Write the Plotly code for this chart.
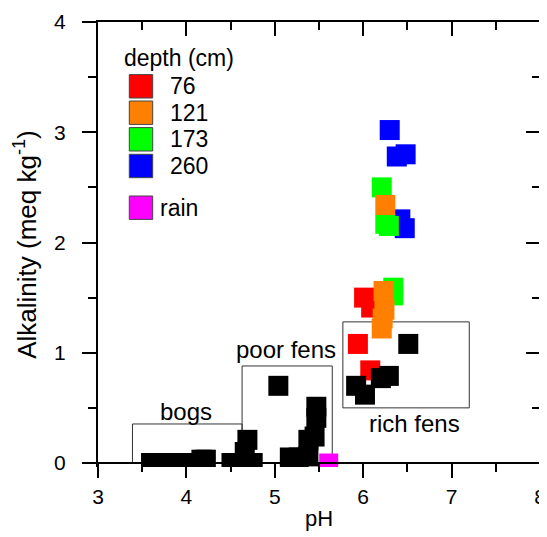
import plotly.graph_objects as go

# ---------------- data ----------------
ph_76 = [6.01, 6.09, 5.94, 6.08]
alk_76 = [1.50, 1.41, 1.08, 0.84]

ph_121 = [6.25, 6.23, 6.24, 6.22, 6.21]
alk_121 = [2.34, 1.56, 1.39, 1.31, 1.22]

ph_173 = [6.21, 6.25, 6.29, 6.34, 6.34]
alk_173 = [2.50, 2.17, 2.15, 1.59, 1.52]

ph_260 = [6.30, 6.38, 6.48, 6.42, 6.47]
alk_260 = [3.02, 2.78, 2.80, 2.21, 2.13]

ph_peat = [3.60, 3.70, 3.81, 3.92, 4.04, 4.17, 4.22,
           4.51, 4.61, 4.75, 4.66, 4.69,
           5.04, 5.47, 5.47, 5.45, 5.38, 5.38, 5.17, 5.27,
           6.51, 6.20, 6.29, 5.92, 6.02]
alk_peat = [0.00, 0.00, 0.00, 0.00, 0.00, 0.03, 0.03,
            0.00, 0.00, 0.00, 0.10, 0.21,
            0.70, 0.51, 0.41, 0.24, 0.21, 0.06, 0.05, 0.05,
            1.08, 0.77, 0.79, 0.70, 0.62]

ph_rain = [5.61]
alk_rain = [0.0]

depth_labels = ["76", "121", "173", "260"]
depth_colors = ["#FF0000", "#FF8000", "#00FF00", "#0000FF"]
rain_label = "rain"
rain_color = "#FF00FF"

# site-type boxes
box_names = ["bogs", "poor fens", "rich fens"]
box_ph0 = [3.39, 4.63, 5.77]
box_ph1 = [4.63, 5.65, 7.20]
box_alk0 = [0.0, 0.0, 0.50]
box_alk1 = [0.354, 0.88, 1.28]
box_label_ph = [4.00, 5.13, 6.58]
box_label_alk = [0.47, 1.025, 0.36]

X_RANGE = [3, 8]
Y_MIN_PAD = 0.0363
Y_RANGE = [-Y_MIN_PAD, 4]

FONT = "Liberation Sans, Arial, sans-serif"
MS = 20

fig = go.Figure()

series = [(ph_260, alk_260, depth_colors[3]),
          (ph_173, alk_173, depth_colors[2]),
          (ph_76, alk_76, depth_colors[0]),
          (ph_121, alk_121, depth_colors[1])]
for xs, ys, c in series:
    fig.add_trace(go.Scatter(x=xs, y=ys, mode="markers",
                             marker=dict(symbol="square", size=MS, color=c,
                                         line=dict(width=0)),
                             showlegend=False))
fig.add_trace(go.Scatter(x=ph_peat, y=alk_peat, mode="markers",
                         marker=dict(symbol="square", size=MS, color="black",
                                     line=dict(width=0)),
                         showlegend=False))
fig.add_trace(go.Scatter(x=ph_rain, y=alk_rain, mode="markers",
                         marker=dict(symbol="square", size=MS - 1, color=rain_color,
                                     line=dict(width=0)),
                         showlegend=False))
# dummy trace for the mirror axes
fig.add_trace(go.Scatter(x=[None], y=[None], xaxis="x2", yaxis="y2",
                         showlegend=False, hoverinfo="skip"))

for i, name in enumerate(box_names):
    fig.add_shape(type="rect", xref="x", yref="y",
                  x0=box_ph0[i], x1=box_ph1[i], y0=box_alk0[i], y1=box_alk1[i],
                  line=dict(color="#333333", width=1), layer="below")
    fig.add_annotation(x=box_label_ph[i], y=box_label_alk[i], xref="x", yref="y",
                       text=name, showarrow=False,
                       font=dict(family=FONT, size=24, color="black"))

# page has an 8px body margin: compensate
OFF = 8
L, R, T, B = 90, 7, 14, 70
W, H = 547 - OFF, 537 - OFF
PW, PH = W - L - R, H - T - B


def px(x):  # absolute page pixel -> paper
    return (x - OFF - L) / PW


def py(y):
    return (OFF + H - B - y) / PH


fig.add_annotation(x=px(122), y=py(58), xref="paper", yref="paper",
                   xanchor="left", yanchor="middle", text="depth (cm)",
                   showarrow=False, font=dict(family=FONT, size=23, color="black"))
row_y = [86.3, 112.7, 139.3, 166.0]
half = 11.7
for i, lab in enumerate(depth_labels):
    yc = row_y[i]
    fig.add_shape(type="rect", xref="paper", yref="paper",
                  x0=px(141 - half), x1=px(141 + half),
                  y0=py(yc + half), y1=py(yc - half),
                  fillcolor=depth_colors[i], line=dict(color="#444444", width=1))
    fig.add_annotation(x=px(168), y=py(yc), xref="paper", yref="paper",
                       xanchor="left", yanchor="middle", text=lab,
                       showarrow=False, font=dict(family=FONT, size=23, color="black"))
yc = 207.7
fig.add_shape(type="rect", xref="paper", yref="paper",
              x0=px(141 - half), x1=px(141 + half),
              y0=py(yc + half), y1=py(yc - half),
              fillcolor=rain_color, line=dict(color="#444444", width=1))
fig.add_annotation(x=px(158), y=py(yc), xref="paper", yref="paper",
                   xanchor="left", yanchor="middle", text=rain_label,
                   showarrow=False, font=dict(family=FONT, size=23, color="black"))

axis_common = dict(showgrid=False, zeroline=False, showline=True,
                   linecolor="black", linewidth=2, tickcolor="black",
                   tickwidth=2, ticklen=14, automargin=False)

fig.update_layout(
    width=W, height=H,
    margin=dict(l=L, r=R, t=T, b=B),
    plot_bgcolor="white", paper_bgcolor="white",
    font=dict(family=FONT, size=21, color="black"),
    xaxis=dict(range=X_RANGE, dtick=1, tick0=3, ticks="outside",
               anchor="free", position=Y_MIN_PAD / (4 + Y_MIN_PAD),
               minor=dict(dtick=0.5, ticks="outside", ticklen=8, tickwidth=2,
                          tickcolor="black"),
               ticklabelstandoff=1,
               title=dict(text="pH", font=dict(size=22), standoff=2),
               tickfont=dict(size=21), **axis_common),
    yaxis=dict(range=Y_RANGE, dtick=1, tick0=0, ticks="outside",
               minor=dict(dtick=0.5, ticks="outside", ticklen=8, tickwidth=2,
                          tickcolor="black"),
               ticklabelstandoff=12,
               title=dict(text="Alkalinity (meq kg<sup>-1</sup>)",
                          font=dict(size=26), standoff=10),
               tickfont=dict(size=21), **axis_common),
    xaxis2=dict(range=X_RANGE, dtick=1, tick0=3, ticks="inside", overlaying="x",
                side="top", anchor="y", showticklabels=False,
                minor=dict(dtick=0.5, ticks="inside", ticklen=8, tickwidth=2,
                           tickcolor="black"),
                **axis_common),
    yaxis2=dict(range=Y_RANGE, dtick=1, tick0=0, ticks="inside", overlaying="y",
                side="right", anchor="x", showticklabels=False,
                minor=dict(dtick=0.5, ticks="inside", ticklen=8, tickwidth=2,
                           tickcolor="black"),
                **axis_common),
    showlegend=False,
)

fig.write_html("out.html")
